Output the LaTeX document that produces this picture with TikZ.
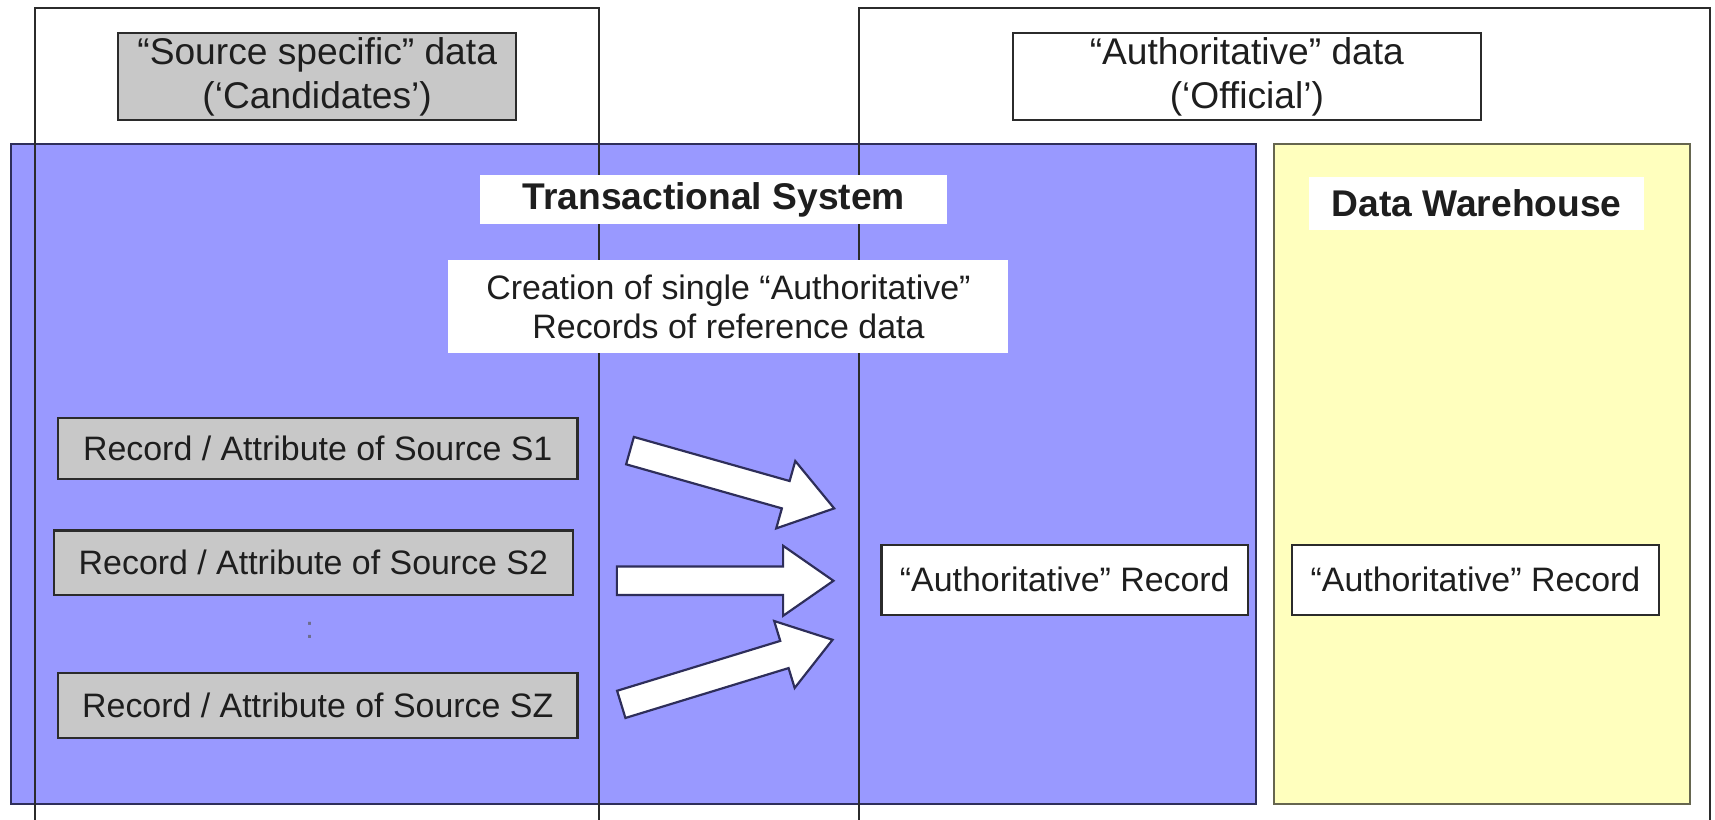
\documentclass[tikz,border=0pt]{standalone}
\usepackage{fontspec}
\setmainfont{Liberation Sans}
\usetikzlibrary{positioning}

\definecolor{tsblue}{HTML}{9999FF}
\definecolor{tsblueline}{HTML}{2E2E5A}
\definecolor{dwyellow}{HTML}{FFFFBE}
\definecolor{dwline}{HTML}{66664F}
\definecolor{recgray}{HTML}{C8C8C8}
\definecolor{frame}{HTML}{2B2B2B}
\definecolor{ink}{HTML}{1E1E1E}

\newdimen\px
\px=0.5pt

\tikzset{
  area/.style={line width=1pt},
  zone/.style={draw=frame, line width=0.9pt},
  header/.style={draw=frame, line width=1pt, text=ink, font=\fontsize{17}{20}\selectfont,
    align=center, inner sep=0pt},
  label/.style={fill=white, text=ink, inner sep=0pt, align=center},
  record/.style={draw=frame, line width=1pt, fill=recgray, text=ink, inner sep=0pt,
    font=\fontsize{15.5}{17}\selectfont},
  official/.style={draw=frame, line width=1pt, fill=white, text=ink, inner sep=0pt,
    minimum width=335\px, minimum height=64\px, font=\fontsize{15.5}{17}\selectfont},
  blockarrow/.style={draw=tsblueline, line width=1pt, fill=white, line join=miter},
}

% block arrow of length #1 along the local x axis
\newcommand\blockarrow[1]{%
  \draw[blockarrow] (0,-13) -- (#1-46,-13) -- (#1-46,-32) -- (#1,0)
    -- (#1-46,32) -- (#1-46,13) -- (0,13) -- cycle;}

\begin{document}
\begin{tikzpicture}[x=0.5pt, y=-0.5pt]
\useasboundingbox (0,0) rectangle (1568,749);
\clip (0,0) rectangle (1568,749);
\fill[white] (0,0) rectangle (1568,749);

% system areas
\draw[area, draw=tsblueline, fill=tsblue] (10,132) rectangle (1148,735);
\draw[area, draw=dwline, fill=dwyellow] (1165,132) rectangle (1545,735);

% data category frames, running through the system areas
\draw[zone] (32,770) -- (32,7) -- (548,7) -- (548,770);
\draw[zone] (785,770) -- (785,7) -- (1563,7) -- (1563,770);

% category headers
\node[header, fill=recgray, minimum width=364\px, minimum height=80\px] (src) at (290,70)
  {“Source specific” data\\(‘Candidates')};
\node[header, fill=white, minimum width=428\px, minimum height=80\px] (auth) at (1140,70)
  {“Authoritative” data\\(‘Official')};

% system titles
\node[label, minimum width=427\px, minimum height=45\px,
  font=\fontsize{17}{20}\selectfont\bfseries] (ts) at (652.5,182.5) {Transactional System};
\node[label, minimum width=306\px, minimum height=48\px,
  font=\fontsize{17}{20}\selectfont\bfseries] (dw) at (1350,186) {Data Warehouse};
\node[label, minimum width=512\px, minimum height=85\px,
  font=\fontsize{15.5}{17.5}\selectfont] (creation) at (666,280.5)
  {Creation of single “Authoritative”\\Records of reference data};

% source records
\node[record, minimum width=475\px, minimum height=56\px] (s1) at (290.5,410)
  {Record / Attribute of Source S1};
\node[record, minimum width=475\px, minimum height=59\px] (s2) at (286.5,514.5)
  {Record / Attribute of Source S2};
\node[text=tsblueline!70, font=\fontsize{14}{14}\selectfont, inner sep=0pt] (dots) at (283,576) {:};
\node[record, minimum width=475\px, minimum height=60\px] (sz) at (290.5,645)
  {Record / Attribute of Source SZ};

% authoritative records
\node[official] (rts) at (973.5,530) {“Authoritative” Record};
\node[official] (rdw) at (1349,530) {“Authoritative” Record};

% consolidation arrows
\coordinate (a1) at (576,412);
\coordinate (a2) at (564,531);
\coordinate (a3) at (568,644);
\begin{scope}[shift={(a1)}, rotate=-15.8]
  \blockarrow{194}
\end{scope}
\begin{scope}[shift={(a2)}]
  \blockarrow{198}
\end{scope}
\begin{scope}[shift={(a3)}, rotate=17]
  \blockarrow{202}
\end{scope}
\end{tikzpicture}
\end{document}
